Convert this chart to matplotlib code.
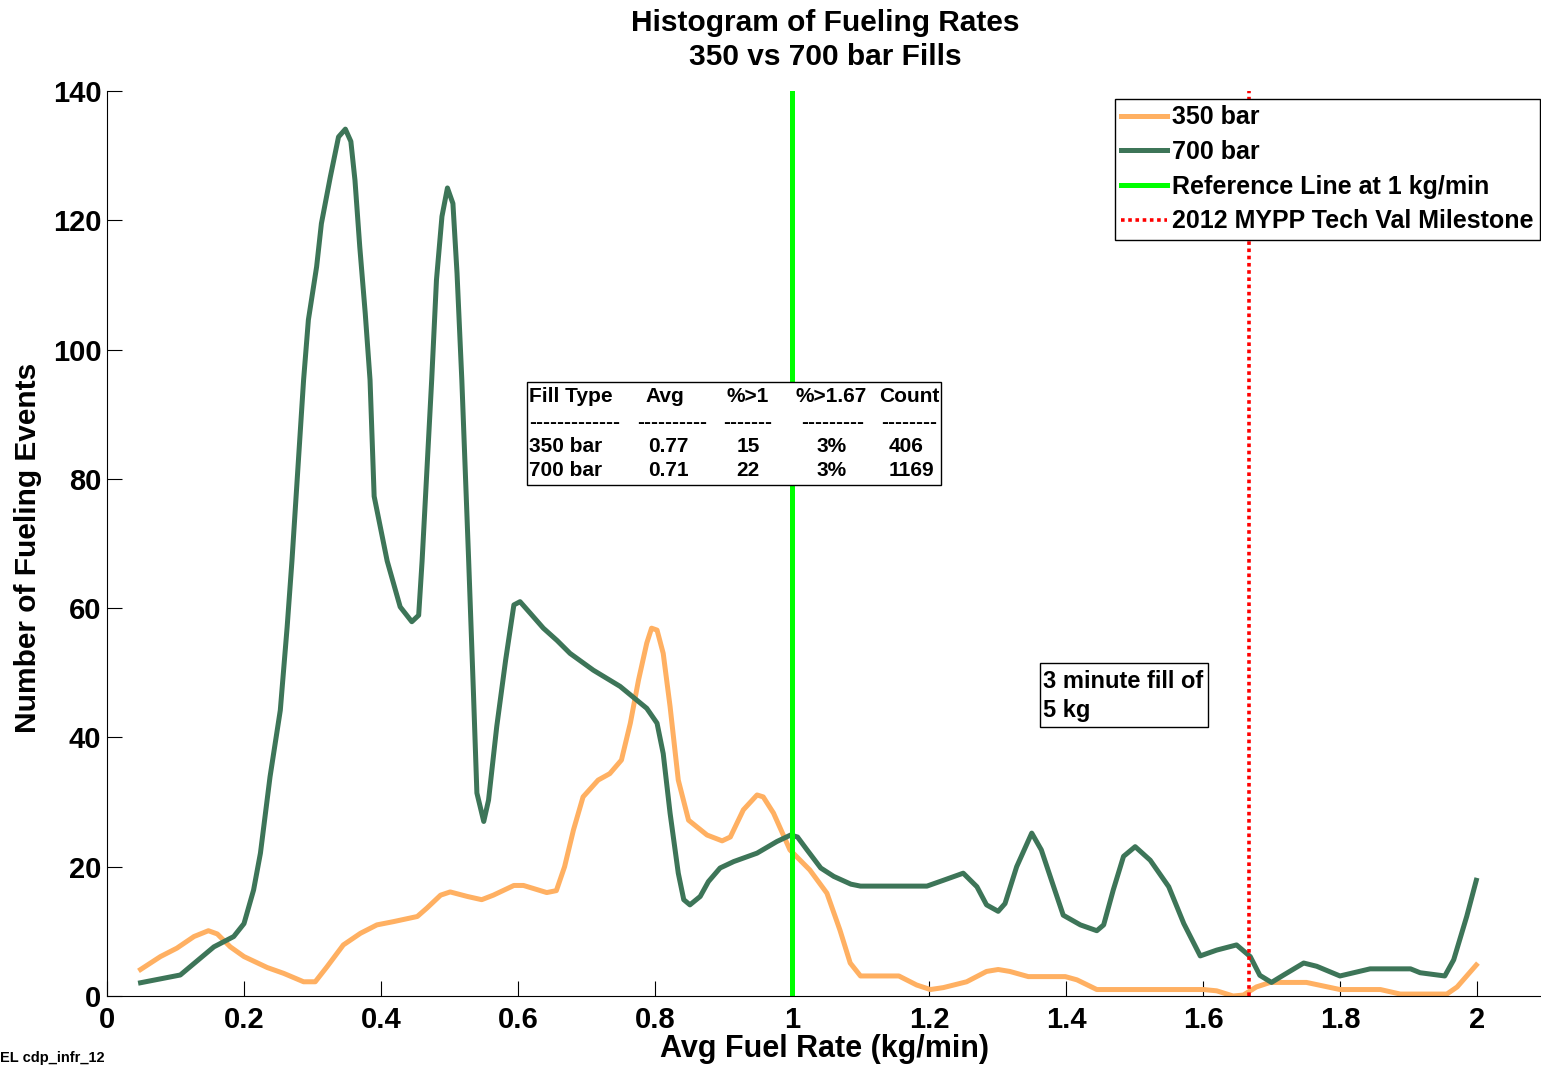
import numpy as np
import matplotlib
matplotlib.use('Agg')
import matplotlib.pyplot as plt
from matplotlib.patches import Rectangle

plt.rcParams['font.family'] = ['Liberation Sans', 'DejaVu Sans']
plt.rcParams['font.weight'] = 'bold'

# 700 bar curve
x700 = [0.049, 0.107, 0.156, 0.185, 0.200, 0.214, 0.224, 0.238, 0.253, 0.263, 0.270,
        0.287, 0.294, 0.306, 0.313, 0.326, 0.338, 0.348, 0.356, 0.362, 0.369, 0.377,
        0.384, 0.390, 0.409, 0.428, 0.445, 0.455, 0.460, 0.474, 0.481, 0.489, 0.497,
        0.505, 0.511, 0.518, 0.528, 0.535, 0.540, 0.550, 0.557, 0.569, 0.582, 0.594,
        0.603, 0.618, 0.637, 0.657, 0.676, 0.710, 0.749, 0.788, 0.803, 0.812, 0.822,
        0.834, 0.842, 0.851, 0.866, 0.878, 0.895, 0.915, 0.949, 0.978, 0.998, 1.008,
        1.022, 1.042, 1.061, 1.086, 1.100, 1.197, 1.221, 1.250, 1.270, 1.284, 1.301,
        1.311, 1.328, 1.350, 1.364, 1.382, 1.396, 1.421, 1.445, 1.455, 1.469, 1.484,
        1.501, 1.523, 1.550, 1.572, 1.596, 1.620, 1.649, 1.669, 1.683, 1.700, 1.717,
        1.747, 1.766, 1.800, 1.844, 1.903, 1.917, 1.953, 1.966, 1.985, 1.999]
y700 = [2.05, 3.25, 7.6, 9.2, 11.2, 16.4, 22.1, 33.9, 44.2, 57.1, 67.3,
        95.3, 104.6, 112.8, 119.5, 126.7, 132.9, 134.1, 132.2, 126.2, 115.9, 105.6,
        95.3, 77.3, 67.3, 60.2, 57.9, 58.9, 67.3, 95.3, 110.8, 120.6, 125.0,
        122.6, 111.8, 95.3, 67.3, 46.8, 31.4, 27.0, 30.3, 41.7, 52.0, 60.5,
        61.0, 59.2, 56.9, 55.0, 53.0, 50.4, 47.9, 44.5, 42.2, 37.5, 28.3,
        19.0, 14.9, 14.1, 15.4, 17.7, 19.8, 20.8, 22.1, 23.9, 24.9, 24.6,
        22.6, 19.8, 18.5, 17.3, 17.0, 17.0, 17.9, 19.0, 16.9, 14.1, 13.1,
        14.3, 20.0, 25.2, 22.6, 16.9, 12.5, 11.0, 10.1, 11.0, 16.4, 21.6,
        23.1, 21.0, 16.9, 11.2, 6.2, 7.1, 7.9, 6.1, 3.2, 2.1, 3.2,
        5.1, 4.6, 3.1, 4.2, 4.2, 3.6, 3.1, 5.6, 12.3, 17.9]

# 350 bar curve
x350 = [0.049, 0.078, 0.102, 0.127, 0.148, 0.161, 0.180, 0.200, 0.234, 0.258, 0.287,
        0.304, 0.321, 0.345, 0.370, 0.394, 0.418, 0.453, 0.467, 0.487, 0.501, 0.526,
        0.547, 0.564, 0.594, 0.608, 0.642, 0.656, 0.668, 0.681, 0.695, 0.717, 0.734,
        0.751, 0.764, 0.776, 0.788, 0.795, 0.803, 0.812, 0.822, 0.834, 0.849, 0.876,
        0.898, 0.910, 0.929, 0.949, 0.958, 0.973, 0.997, 1.026, 1.051, 1.070, 1.085,
        1.100, 1.156, 1.182, 1.202, 1.221, 1.255, 1.284, 1.301, 1.318, 1.345, 1.399,
        1.416, 1.445, 1.601, 1.620, 1.644, 1.659, 1.678, 1.698, 1.751, 1.800, 1.859,
        1.888, 1.956, 1.971, 1.999]
y350 = [4.1, 6.1, 7.4, 9.2, 10.1, 9.6, 7.6, 6.1, 4.4, 3.5, 2.2,
        2.2, 4.5, 7.9, 9.7, 11.0, 11.5, 12.3, 13.6, 15.6, 16.1, 15.4,
        14.9, 15.6, 17.1, 17.1, 16.0, 16.3, 20.0, 25.7, 30.8, 33.4, 34.4,
        36.5, 42.2, 48.9, 54.6, 56.9, 56.6, 53.0, 44.8, 33.4, 27.2, 24.9,
        24.0, 24.6, 28.8, 31.1, 30.8, 28.3, 22.6, 19.5, 15.9, 10.2, 5.1,
        3.1, 3.1, 1.7, 1.0, 1.3, 2.2, 3.8, 4.1, 3.8, 3.0, 3.0,
        2.5, 1.0, 1.0, 0.8, 0.0, 0.15, 1.4, 2.1, 2.1, 1.0, 1.0,
        0.3, 0.3, 1.4, 4.8]

ref_x = 1.0
milestone_x = 5 / 3.0

table_header = ['Fill Type', 'Avg', '%>1', '%>1.67', 'Count']
table_dash = ['-------------', '----------', '-------', '---------', '--------']
table_rows = [['350 bar', '0.77', '15', '3%', '406'],
              ['700 bar', '0.71', '22', '3%', '1169']]

W, H = 1541, 1067
fig = plt.figure(figsize=(W / 100, H / 100), dpi=100)


def px(x, y):
    return x / W, 1 - y / H


ax = fig.add_axes([107 / W, (H - 996) / H, (1540 - 107) / W, (996 - 91) / H])
l1, = ax.plot(x350, y350, color='#FFB062', lw=3.6, label='350 bar')
l2, = ax.plot(x700, y700, color='#3D7558', lw=3.6, label='700 bar')
l3 = ax.axvline(ref_x, color='#00FF00', lw=3.6, label='Reference Line at 1 kg/min')
l4 = ax.axvline(milestone_x, color='#FF0000', lw=2.6, ls=(0, (1, 1)),
                label='2012 MYPP Tech Val Milestone')

ax.set_xlim(0, 2.092)
ax.set_ylim(0, 140)
ax.set_xticks(np.arange(0, 2.01, 0.2))
ax.set_xticklabels(['0', '0.2', '0.4', '0.6', '0.8', '1', '1.2', '1.4', '1.6', '1.8', '2'])
ax.set_yticks(np.arange(0, 141, 20))
ax.tick_params(direction='in', length=10.5, width=0.8, labelsize=21)
ax.tick_params(axis='x', pad=7)
ax.tick_params(axis='y', pad=4)
for lab in ax.get_xticklabels() + ax.get_yticklabels():
    lab.set_fontweight('bold')
ax.spines['top'].set_visible(False)
ax.spines['right'].set_visible(False)

fig.text(*px(825, 40), 'Histogram of Fueling Rates\n350 vs 700 bar Fills',
         ha='center', va='center', fontsize=21.5, fontweight='bold', linespacing=1.27)
fig.text(*px(825, 1049), 'Avg Fuel Rate (kg/min)', ha='center', va='center',
         fontsize=22, fontweight='bold')
fig.text(*px(28, 548), 'Number of Fueling Events', ha='center', va='center',
         rotation=90, fontsize=21.5, fontweight='bold')
fig.text(*px(0, 1058), 'EL cdp_infr_12', ha='left', va='center', fontsize=10.5,
         fontweight='bold')

leg = fig.legend(handles=[l1, l2, l3, l4], loc='upper right',
                 bbox_to_anchor=px(1540, 99), borderaxespad=0,
                 prop={'weight': 'bold', 'size': 18}, fancybox=False,
                 edgecolor='black', framealpha=1, handlelength=1.85,
                 handletextpad=0.2, labelspacing=0.43, borderpad=0.25)
leg.get_frame().set_linewidth(1.0)

# summary table
x0, y0 = px(527, 485)
x1, y1 = px(941, 382)
fig.patches.append(Rectangle((x0, y0), x1 - x0, y1 - y0, transform=fig.transFigure,
                             facecolor='white', edgecolor='black', lw=1.0, zorder=2))
col_x = [529, 665, 748, 831, 909]
col_ha = ['left', 'center', 'center', 'center', 'center']
dash_x = [529, 672, 748, 833, 909]
row_y = [397, 422, 446, 471]
tfs = 15
for j in range(5):
    fig.text(*px(col_x[j], row_y[0]), table_header[j], ha=col_ha[j], va='center',
             fontsize=tfs, fontweight='bold', zorder=4)
    fig.text(*px(dash_x[j], row_y[1]), table_dash[j], ha=col_ha[j], va='center',
             fontsize=tfs, fontweight='bold', zorder=4)
    for i, row in enumerate(table_rows):
        xx = col_x[j] if j != 4 else col_x[j] - 3 + 5 * i
        if j == 1:
            xx = 668
        if j == 3:
            xx = 832
        fig.text(*px(xx, row_y[2 + i]), row[j], ha=col_ha[j], va='center',
                 fontsize=tfs, fontweight='bold', zorder=4)

# annotation box
a0, b0 = px(1040, 727)
a1, b1 = px(1208, 663)
fig.patches.append(Rectangle((a0, b0), a1 - a0, b1 - b0, transform=fig.transFigure,
                             facecolor='white', edgecolor='black', lw=1.0, zorder=2))
fig.text(*px(1043, 696), '3 minute fill of\n5 kg', ha='left', va='center',
         fontsize=17, fontweight='bold', linespacing=1.35, zorder=4)

fig.savefig('out.png', dpi=100)
